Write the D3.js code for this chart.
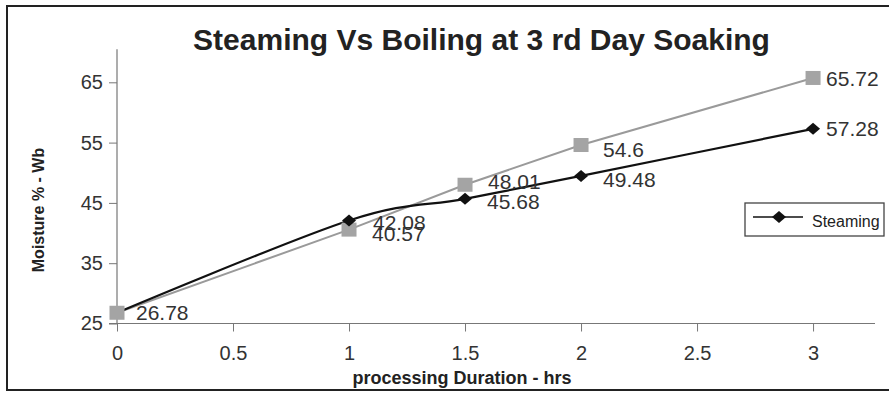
<!DOCTYPE html>
<html><head><meta charset="utf-8">
<script src="https://cdn.jsdelivr.net/npm/d3@7"></script>
<style>
html,body{margin:0;padding:0;background:#fff;}
svg{display:block;font-family:"Liberation Sans",Arial,sans-serif;}
</style></head>
<body><svg id="c" width="889" height="396"></svg>
<script>
const durations = [0, 1, 1.5, 2, 3];
const steaming = [26.78, 42.08, 45.68, 49.48, 57.28];
const boiling = [26.78, 40.57, 48.01, 54.6, 65.72];
const xTicks = [0, 0.5, 1, 1.5, 2, 2.5, 3];
const yTicks = [25, 35, 45, 55, 65];
const title = "Steaming Vs Boiling at 3 rd Day Soaking";
const xTitle = "processing Duration - hrs";
const yTitle = "Moisture % - Wb";
const legendLabel = "Steaming";

const svg = d3.select("#c");
const L = 117, R = 875, B = 323.5, T = 323.5 - 45 * 6.03;
const x = d3.scaleLinear().domain([0, 3.267]).range([L, R]);
const y = d3.scaleLinear().domain([25, 70]).range([B, T]);

// outer border (right side cut off in reference)
svg.append("path").attr("d", `M889,6 H7 V390 H889`).attr("fill","none").attr("stroke","#222").attr("stroke-width",2);

// title
svg.append("text").attr("x", 481.5).attr("y", 50).attr("text-anchor","middle")
  .attr("font-size", 30).attr("font-weight","bold").attr("fill","#222").text(title);

// axes
const yAxis = svg.append("g").attr("transform",`translate(${L},0)`)
  .call(d3.axisLeft(y).tickValues(yTicks).tickSize(8).tickPadding(6).tickFormat(d3.format("d")));
const xAxis = svg.append("g").attr("transform",`translate(0,${B})`)
  .call(d3.axisBottom(x).tickValues(xTicks).tickSize(8).tickPadding(14).tickFormat(d => d));
yAxis.select(".domain").attr("d", `M-8,${y(25)}H0V${y(70)-3}`);
[yAxis, xAxis].forEach(g => {
  g.select(".domain").attr("stroke","#777").attr("stroke-width",1.2);
  g.selectAll(".tick line").attr("stroke","#777");
  g.selectAll(".tick text").attr("font-size",20).attr("fill","#333").attr("font-family","Liberation Sans, Arial, sans-serif");
});
xAxis.select(".domain").attr("d", `M${L},0H${R}`);

// axis titles
svg.append("text").attr("x", 462).attr("y", 384).attr("text-anchor","middle")
  .attr("font-size",18).attr("font-weight","bold").attr("fill","#222").text(xTitle);
svg.append("text").attr("transform",`translate(44,210) rotate(-90)`).attr("text-anchor","middle")
  .attr("font-size",16).attr("font-weight","bold").attr("fill","#222").text(yTitle);

// lines
const boilData = durations.map((d,i)=>({x:d,y:boiling[i]}));
const steamData = durations.map((d,i)=>({x:d,y:steaming[i]}));
svg.append("path").datum(boilData)
  .attr("d", d3.line().x(d=>x(d.x)).y(d=>y(d.y)))
  .attr("fill","none").attr("stroke","#9a9a9a").attr("stroke-width",2);
svg.append("path").datum(steamData)
  .attr("d", d3.line().x(d=>x(d.x)).y(d=>y(d.y)).curve(d3.curveCardinal.tension(0)))
  .attr("fill","none").attr("stroke","#111").attr("stroke-width",2.2);

// markers
svg.selectAll(".sq").data(boilData).enter().append("rect")
  .attr("x", d=>x(d.x)-7.5).attr("y", d=>y(d.y)-7).attr("width",15).attr("height",14)
  .attr("fill","#a4a4a4");
const diamond = "M0,-6L7,0L0,6L-7,0Z";
svg.selectAll(".dm").data(steamData.slice(1)).enter().append("path")
  .attr("d", diamond).attr("transform", d=>`translate(${x(d.x)},${y(d.y)})`)
  .attr("fill","#111");

// data labels (per-point nudges matching the reference placement: [dx, dy])
const boilNudge = [[19,0],[23,4],[23,-3.5],[22,4],[13,0]];
const steamNudge = [null,[24,1.5],[22,3],[22,3.5],[13,0]];
function addLabels(data, nudges){
  data.forEach((d,i)=>{
    if(!nudges[i]) return;
    svg.append("text").attr("x", x(d.x)+nudges[i][0]).attr("y", y(d.y)+nudges[i][1])
      .attr("dy","0.36em").attr("font-size",21).attr("fill","#333").text(d.y);
  });
}
addLabels(boilData, boilNudge);
addLabels(steamData, steamNudge);

// legend
const lg = svg.append("g");
lg.append("rect").attr("x",745).attr("y",203).attr("width",139).attr("height",33)
  .attr("fill","#fff").attr("stroke","#444").attr("stroke-width",1.3);
lg.append("line").attr("x1",753).attr("x2",803).attr("y1",217).attr("y2",217).attr("stroke","#111").attr("stroke-width",1.5);
lg.append("path").attr("d",diamond).attr("transform","translate(779,217)").attr("fill","#111");
lg.append("text").attr("x",812).attr("y",226.5).attr("font-size",16).attr("fill","#222").text(legendLabel);
</script></body></html>
